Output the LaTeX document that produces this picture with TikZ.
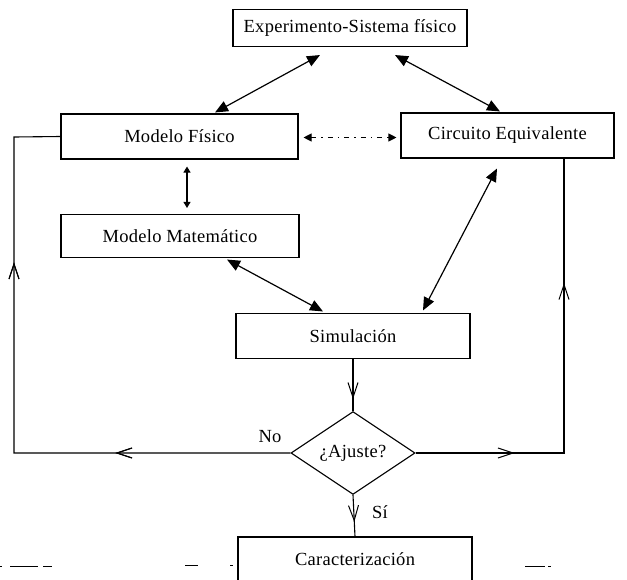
\documentclass[tikz,border=0pt]{standalone}
\usepackage{fontspec}
\setmainfont{Liberation Serif}[LetterSpace=1.5]
\usetikzlibrary{arrows.meta,shapes.geometric,calc,decorations.markings}
\begin{document}
\begin{tikzpicture}[x=1pt,y=-1pt,
  txt/.style={font=\fontsize{18.5}{21}\selectfont},
  box/.style={draw, line width=1.1pt, minimum height=45pt, inner sep=0pt, txt},
  biarrow/.style={line width=1.2pt, {Triangle[length=13pt,width=11pt]}-{Triangle[length=13pt,width=11pt]}},
  smallbi/.style={line width=1.1pt, {Triangle[length=6pt,width=7pt]}-{Triangle[length=6pt,width=7pt]}},
  flow/.style={line width=1.1pt},
  midarrow/.style={postaction={decorate}, decoration={markings, mark=at position #1 with {\arrow{Straight Barb[length=15pt,width=10pt,line width=1pt]}}}},
  lbl/.style={txt, inner sep=0pt}
]
\fill[white] (0,0) rectangle (627,579);
\clip (0,0) rectangle (627,579);

\node[box, minimum width=234pt, minimum height=37pt] (exp) at (350,28) {Experimento-Sistema físico};
\node[box, minimum width=237pt] (mf) at (179.5,136.5) {Modelo Físico};
\node[box, minimum width=213pt] (ce) at (507.5,135.5) {Circuito Equivalente};
\node[box, minimum width=238pt, minimum height=43pt] (mm) at (180,236) {Modelo Matemático};
\node[box, minimum width=234pt] (sim) at (353,336) {Simulación};
\node[diamond, draw, line width=1.1pt, minimum width=124pt, minimum height=82pt, inner sep=0pt, txt] (aj) at (353,453) {¿Ajuste?};
\node[box, minimum width=234pt] (car) at (355,559.5) {Caracterización};

\node[lbl] (no) at (270,437) {No};
\node[lbl] (si) at (380,512) {Sí};

% double arrows
\draw[biarrow] ($(exp.south)+(-30,8)$) -- ($(mf.north)+(35.5,-1)$);
\draw[biarrow] ($(exp.south)+(45,8)$) -- ($(ce.north)+(-7.5,-1)$);
\draw[smallbi] ($(mf.south)+(7.5,7)$) -- ($(mm.north)+(7,-6)$);
\draw[line width=1.1pt, dash pattern=on 5pt off 5pt on 1.5pt off 5pt, {Triangle[length=8pt,width=8pt]}-{Triangle[length=8pt,width=8pt]}] ($(mf.east)+(5,1)$) -- ($(ce.west)+(-4,2)$);
\draw[biarrow] ($(ce.south)+(-10.5,10)$) -- ($(sim.north)+(70,-2.5)$);
\draw[biarrow] ($(mm.south)+(47,1.5)$) -- ($(sim.north)+(-30,-1.5)$);

% flow lines
\coordinate (bl) at (14,453);
\coordinate (tl) at (14,137);
\coordinate (br) at (564,453);
\draw[flow, midarrow=40pt] (sim.south) -- (aj.north);
\draw[flow, midarrow=27pt] (aj.south) -- (car.north);
\draw[flow, midarrow=175pt, midarrow=467pt] (aj.west) -- (bl) -- (tl) -- (mf.west);
\draw[flow] (aj.east) -- (br) -- (br |- ce.south);
\draw[flow, midarrow=99pt] (aj.east) -- (br);
\draw[flow, midarrow=170pt] (br) -- (br |- ce.south);

% scan fragments
\draw[line width=0.8pt] (0,566) -- (2,566) (10,566) -- (38,566) (43,566) -- (52,566)
  (185,565) -- (198,565) (230,565) -- (233,565) (525,566) -- (545,566) (548,566) -- (551,566);
\end{tikzpicture}
\end{document}
